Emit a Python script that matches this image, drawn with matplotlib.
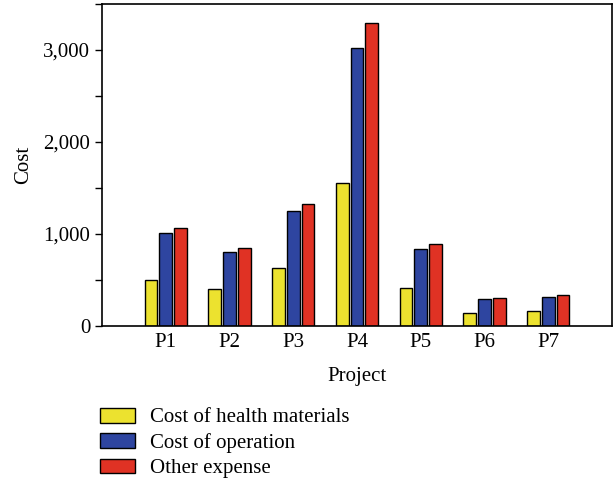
import matplotlib
matplotlib.use('Agg')
import matplotlib.pyplot as plt
import numpy as np
from matplotlib.ticker import MultipleLocator, FuncFormatter

plt.rcParams['font.family'] = ['Liberation Serif', 'DejaVu Serif']

projects = ['P1', 'P2', 'P3', 'P4', 'P5', 'P6', 'P7']
health_materials = [500, 400, 635, 1555, 415, 140, 160]
operation = [1010, 800, 1255, 3020, 840, 295, 320]
other_expense = [1070, 845, 1330, 3290, 890, 300, 333]

series_names = ['Cost of health materials', 'Cost of operation', 'Other expense']
colors = ['#ECE22F', '#2E45A0', '#E03224']

fig = plt.figure(figsize=(6.16, 4.83), dpi=100)
ax = fig.add_axes([102 / 616, 1 - 326 / 483, 510 / 616, 322 / 483])

x = np.arange(len(projects))
width = 0.2
step = 0.23
handles = []
for i, (vals, c, name) in enumerate(zip([health_materials, operation, other_expense], colors, series_names)):
    h = ax.bar(x + (i - 1) * step, vals, width, color=c, edgecolor='black', linewidth=1.0, label=name)
    handles.append(h)

fs = 15
ax.set_xlim(-1, 7)
ax.set_ylim(0, 3500)
ax.set_xticks(x)
ax.set_xticklabels(projects, fontsize=fs)
ax.tick_params(axis='x', length=0, pad=5)
ax.yaxis.set_major_locator(MultipleLocator(1000))
ax.yaxis.set_minor_locator(MultipleLocator(500))
ax.yaxis.set_major_formatter(FuncFormatter(lambda v, p: f'{int(v):,}'))
ax.tick_params(axis='y', which='both', length=5, width=1, labelsize=fs, direction='out')
for s in ax.spines.values():
    s.set_linewidth(1.2)
ax.set_xlabel('Project', fontsize=fs, labelpad=11)
ax.set_ylabel('Cost', fontsize=fs, labelpad=7)

fig.legend(handles=handles, labels=series_names, loc='upper left', bbox_to_anchor=(81 / 616, 1 - 389 / 483),
           frameon=False, fontsize=fs, handlelength=1.7, handleheight=0.72, labelspacing=0.27, handletextpad=0.72)

fig.savefig('out.png', dpi=100)
